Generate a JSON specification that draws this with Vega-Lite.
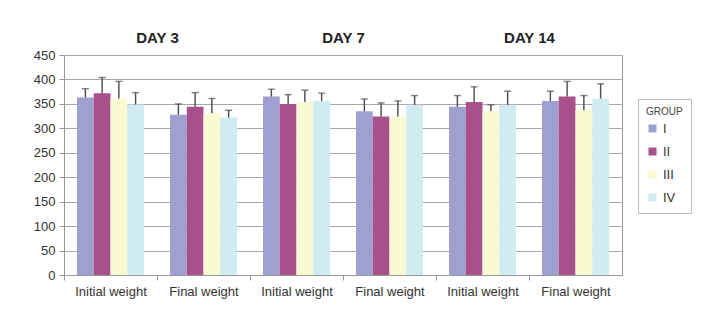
{
  "$schema": "https://vega.github.io/schema/vega-lite/v6.json",
  "width": 558,
  "height": 220,
  "padding": {"left": 33, "top": 30, "right": 5, "bottom": 5},
  "background": "white",
  "config": {
    "font": "Liberation Sans",
    "view": {"stroke": "#9a9a9a", "strokeWidth": 1},
    "axis": {"labelColor": "#333333", "labelFontSize": 13, "titleColor": "#333333"}
  },
  "datasets": {
    "bars": [
      {"cat": "D3 Initial", "group": "I", "mean": 363, "upper": 381},
      {"cat": "D3 Initial", "group": "II", "mean": 372, "upper": 404},
      {"cat": "D3 Initial", "group": "III", "mean": 361, "upper": 396},
      {"cat": "D3 Initial", "group": "IV", "mean": 349, "upper": 373},
      {"cat": "D3 Final", "group": "I", "mean": 328, "upper": 350},
      {"cat": "D3 Final", "group": "II", "mean": 344, "upper": 373},
      {"cat": "D3 Final", "group": "III", "mean": 331, "upper": 361},
      {"cat": "D3 Final", "group": "IV", "mean": 322, "upper": 337},
      {"cat": "D7 Initial", "group": "I", "mean": 365, "upper": 380},
      {"cat": "D7 Initial", "group": "II", "mean": 350, "upper": 369},
      {"cat": "D7 Initial", "group": "III", "mean": 354, "upper": 378},
      {"cat": "D7 Initial", "group": "IV", "mean": 356, "upper": 372},
      {"cat": "D7 Final", "group": "I", "mean": 335, "upper": 360},
      {"cat": "D7 Final", "group": "II", "mean": 324, "upper": 352},
      {"cat": "D7 Final", "group": "III", "mean": 324, "upper": 356},
      {"cat": "D7 Final", "group": "IV", "mean": 348, "upper": 367},
      {"cat": "D14 Initial", "group": "I", "mean": 344, "upper": 367},
      {"cat": "D14 Initial", "group": "II", "mean": 354, "upper": 385},
      {"cat": "D14 Initial", "group": "III", "mean": 335, "upper": 348},
      {"cat": "D14 Initial", "group": "IV", "mean": 348, "upper": 376},
      {"cat": "D14 Final", "group": "I", "mean": 356, "upper": 376},
      {"cat": "D14 Final", "group": "II", "mean": 365, "upper": 396},
      {"cat": "D14 Final", "group": "III", "mean": 337, "upper": 367},
      {"cat": "D14 Final", "group": "IV", "mean": 361, "upper": 391}
    ],
    "days": [{"day": "DAY 3"}, {"day": "DAY 7"}, {"day": "DAY 14"}]
  },
  "layer": [
    {
      "data": {"name": "bars"},
      "layer": [
        {
          "mark": {"type": "bar"},
          "encoding": {
            "x": {
              "field": "cat", "type": "nominal", "sort": null,
              "scale": {"paddingInner": 0.28, "paddingOuter": 0.14},
              "axis": {
                "title": null, "labelAngle": 0, "orient": "bottom",
                "labelExpr": "indexof(datum.value, 'Initial') >= 0 ? 'Initial weight' : 'Final weight'",
                "domainColor": "#999999", "tickColor": "#999999", "tickSize": 5,
                "tickOffset": -46.5, "labelOffset": 46.5,
                "labelPadding": 5, "grid": false
              }
            },
            "xOffset": {"field": "group", "type": "nominal", "sort": ["I", "II", "III", "IV"]},
            "y": {
              "field": "mean", "type": "quantitative",
              "scale": {"domain": [0, 450]},
              "axis": {
                "title": null, "values": [0, 50, 100, 150, 200, 250, 300, 350, 400, 450],
                "gridColor": "#a8a8a8", "gridWidth": 1, "domainColor": "#999999",
                "tickColor": "#999999", "tickSize": 5, "labelPadding": 4, "labelOverlap": false
              }
            },
            "color": {
              "field": "group", "type": "nominal",
              "scale": {"domain": ["I", "II", "III", "IV"], "range": ["#a0a0d0", "#a8508a", "#f9f9d2", "#d0ecf0"]},
              "legend": {
                "title": "GROUP", "orient": "none", "legendX": 574, "legendY": 44,
                "strokeColor": "#bbbbbb", "padding": 8,
                "titleFontSize": 10, "titleFontWeight": "normal", "titleColor": "#444444",
                "labelFontSize": 13, "labelColor": "#333333",
                "symbolType": "square", "symbolSize": 64, "symbolStrokeWidth": 0,
                "rowPadding": 9
              }
            }
          }
        },
        {
          "mark": {"type": "rule", "color": "#4a4a4a", "strokeWidth": 1.4},
          "encoding": {
            "x": {"field": "cat", "type": "nominal", "sort": null},
            "xOffset": {"field": "group", "type": "nominal", "sort": ["I", "II", "III", "IV"]},
            "y": {
              "field": "mean", "type": "quantitative",
              "axis": {
                "title": null, "values": [0, 50, 100, 150, 200, 250, 300, 350, 400, 450],
                "gridColor": "#a8a8a8", "gridWidth": 1, "domainColor": "#999999",
                "tickColor": "#999999", "tickSize": 5, "labelPadding": 4, "labelOverlap": false
              }
            },
            "y2": {"field": "upper"}
          }
        },
        {
          "mark": {"type": "tick", "color": "#4a4a4a", "thickness": 1.4, "size": 7, "orient": "horizontal"},
          "encoding": {
            "x": {"field": "cat", "type": "nominal", "sort": null},
            "xOffset": {"field": "group", "type": "nominal", "sort": ["I", "II", "III", "IV"]},
            "y": {
              "field": "upper", "type": "quantitative",
              "axis": {
                "title": null, "values": [0, 50, 100, 150, 200, 250, 300, 350, 400, 450],
                "gridColor": "#a8a8a8", "gridWidth": 1, "domainColor": "#999999",
                "tickColor": "#999999", "tickSize": 5, "labelPadding": 4, "labelOverlap": false
              }
            }
          }
        }
      ]
    },
    {
      "data": {"name": "days"},
      "mark": {"type": "text", "text": " "},
      "encoding": {
        "x": {
          "field": "day", "type": "nominal", "sort": null,
          "scale": {"paddingInner": 0, "paddingOuter": 0},
          "axis": {
            "orient": "top", "title": null, "domain": false, "ticks": false, "tickSize": 0,
            "grid": false, "labelAngle": 0, "labelFontSize": 15, "labelFontWeight": "bold",
            "labelColor": "#222222", "labelPadding": 10
          }
        }
      }
    }
  ],
  "resolve": {"scale": {"x": "independent"}, "axis": {"x": "independent"}}
}
